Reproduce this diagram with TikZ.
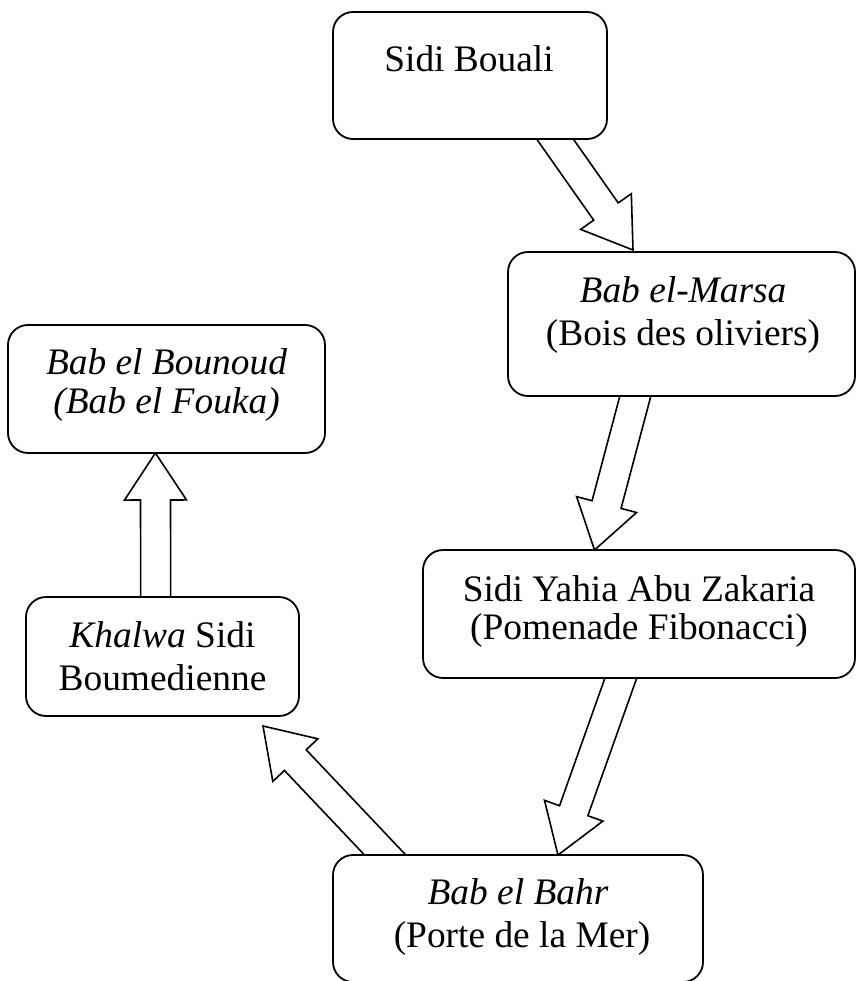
\documentclass[tikz,border=0pt]{standalone}
\usepackage{fontspec}
\setmainfont{Liberation Serif}
\usetikzlibrary{calc}
\pgfdeclarelayer{background}
\pgfsetlayers{background,main}
\newcommand\blockarr[2]{%
  \coordinate (ba-t) at ($(#1)!-25pt!(#2)$);
  \coordinate (ba-h) at ($(#2)!47pt!(#1)$);
  \draw[barr] ($(ba-t)!15pt!90:(#2)$) -- ($(ba-h)!15pt!90:(#2)$) -- ($(ba-h)!31pt!90:(#2)$) -- (#2)
    -- ($(ba-h)!31pt!-90:(#2)$) -- ($(ba-h)!15pt!-90:(#2)$) -- ($(ba-t)!15pt!-90:(#2)$) -- cycle;}
\begin{document}
\begin{tikzpicture}[x=1pt,y=-1pt,
  box/.style={draw=black, fill=white, line width=1.8pt, rounded corners=20pt, inner sep=0pt, outer sep=0pt},
  lbl/.style={anchor=base, inner sep=0pt, font=\fontsize{37.4}{43}\selectfont},
  barr/.style={draw=black, fill=white, line width=1.6pt, line join=miter}]
\useasboundingbox (0,0) rectangle (856,981);
% boxes
\node[box, minimum width=274pt, minimum height=127pt] (b1) at (470,75.5) {};
\node[box, minimum width=347pt, minimum height=144pt] (b2) at (681.5,324) {};
\node[box, minimum width=317pt, minimum height=128pt] (b3) at (166.5,389) {};
\node[box, minimum width=432pt, minimum height=128pt] (b4) at (639,614) {};
\node[box, minimum width=273pt, minimum height=119pt] (b5) at (162.5,656.5) {};
\node[box, minimum width=370pt, minimum height=127pt] (b6) at (518,918.5) {};
% texts
\node[lbl] (t1) at (469,72) {Sidi Bouali};
\node[lbl] (t2a) at (683,302) {\itshape Bab el-Marsa};
\node[lbl] (t2b) at (683,345) {(Bois des oliviers)};
\node[lbl] (t3a) at (166.5,374) {\itshape Bab el Bounoud};
\node[lbl] (t3b) at (166.5,413) {\itshape (Bab el Fouka)};
\node[lbl] (t4a) at (639,601) {Sidi Yahia Abu Zakaria};
\node[lbl] (t4b) at (639,639) {(Pomenade Fibonacci)};
\node[lbl] (t5a) at (162.5,647) {\textit{Khalwa} Sidi};
\node[lbl] (t5b) at (162.5,690) {Boumedienne};
\node[lbl] (t6a) at (518,904) {\itshape Bab el Bahr};
\node[lbl] (t6b) at (522,947) {(Porte de la Mer)};
% connector end points
\coordinate (a1s) at ($(b1.south west)!0.81!(b1.south east)$);
\coordinate (a1e) at (633,250);
\coordinate (a2s) at ($(b2.south west)!0.367!(b2.south east)$);
\coordinate (a2e) at ($(b4.north west)!0.397!(b4.north east)$);
\coordinate (a3s) at ($(b4.south west)!0.458!(b4.south east)$);
\coordinate (a3e) at ($(b6.north west)!0.608!(b6.north east)$);
\coordinate (a4s) at ($(b6.north west)!0.141!(b6.north east)$);
\coordinate (a4e) at (263,726);
\coordinate (a5s) at ($(b5.north west)!0.475!(b5.north east)$);
\coordinate (a5e) at ($(b3.south west)!0.465!(b3.south east)$);
\begin{pgfonlayer}{background}
\blockarr{a1s}{a1e}
\blockarr{a2s}{a2e}
\blockarr{a3s}{a3e}
\blockarr{a4s}{a4e}
\blockarr{a5s}{a5e}
\end{pgfonlayer}
\end{tikzpicture}
\end{document}
